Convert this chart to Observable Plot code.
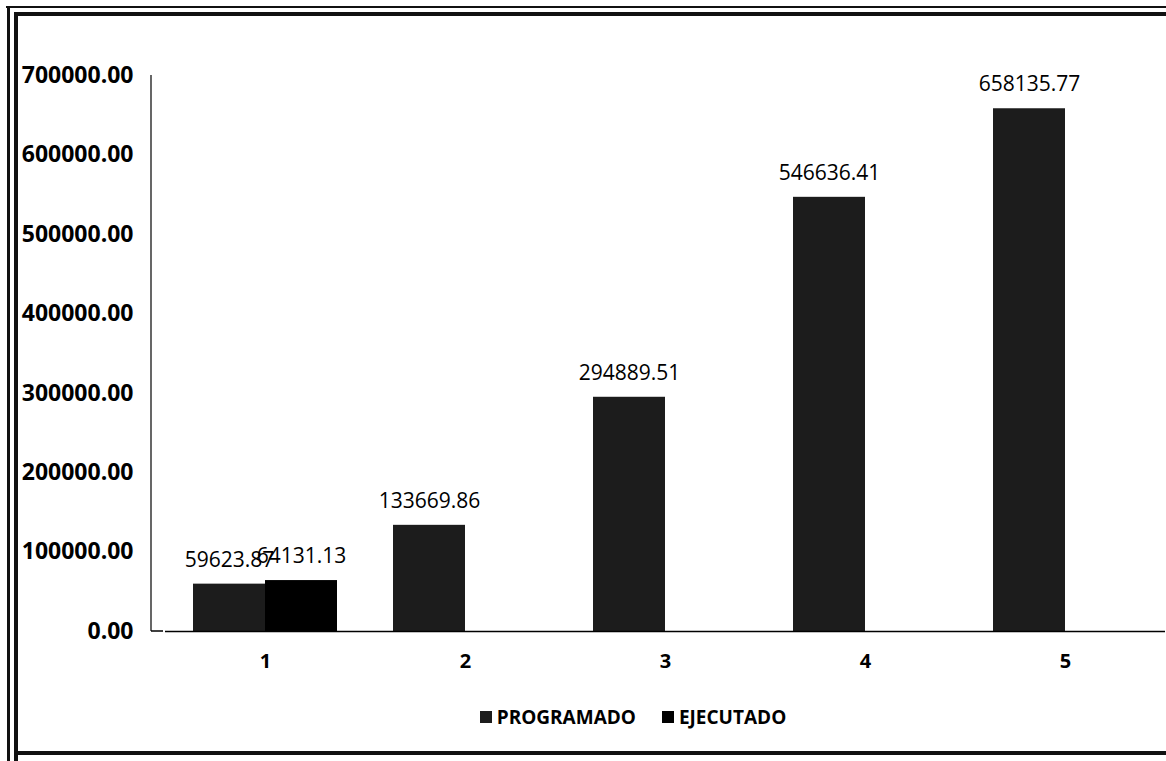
<!DOCTYPE html>
<html>
<head>
<meta charset="utf-8">
<script src="https://cdn.jsdelivr.net/npm/d3@7"></script>
<script src="https://cdn.jsdelivr.net/npm/@observablehq/plot@0.6"></script>
<style>
  html, body { margin: 0; padding: 0; background: #fff; }
  body { width: 1166px; height: 761px; position: relative; overflow: hidden; font-family: "Open Sans", sans-serif; }
  #chart { position: absolute; left: 0; top: 0; }
  .b { position: absolute; background: #111; }
  #legend { position: absolute; top: 704px; left: 0; width: 1166px; display: flex; justify-content: center; gap: 26px; padding-left: 100px; box-sizing: border-box;
    font: bold 19px "Open Sans", sans-serif; color: #000; }
  #legend span.item { display: inline-flex; align-items: center; gap: 5px; }
  #legend span.sw { display: inline-block; width: 12px; height: 12px; }
</style>
</head>
<body>
<div id="chart"></div>
<div id="legend"></div>
<div class="b" style="left:6px; top:6px; width:1160px; height:2px;"></div>
<div class="b" style="left:14px; top:12px; width:1152px; height:4px;"></div>
<div class="b" style="left:7px; top:6px; width:3px; height:755px;"></div>
<div class="b" style="left:14px; top:12px; width:4px; height:749px;"></div>
<div class="b" style="left:14px; top:751px; width:1152px; height:4px;"></div>
<script>
const categories = ["1", "2", "3", "4", "5"];
const seriesNames = ["PROGRAMADO", "EJECUTADO"];
const programado = [59623.87, 133669.86, 294889.51, 546636.41, 658135.77];
const ejecutado = [64131.13, null, null, null, null];
const seriesColors = ["#1c1c1c", "#000000"];
const yTicks = [0, 100000, 200000, 300000, 400000, 500000, 600000, 700000];

const data = [];
categories.forEach((c, i) => {
  if (programado[i] != null) data.push({cat: c, series: seriesNames[0], value: programado[i]});
  if (ejecutado[i] != null) data.push({cat: c, series: seriesNames[1], value: ejecutado[i]});
});
const fmt = d3.format(".2f");

const plot = Plot.plot({
  width: 1166,
  height: 680,
  marginLeft: 163,
  marginRight: 0,
  marginTop: 75,
  marginBottom: 49,
  style: { fontFamily: "Open Sans, sans-serif", background: "transparent" },
  fx: { domain: categories, padding: 0, label: null },
  x: { domain: seriesNames, paddingInner: 0, paddingOuter: 0.37, axis: null },
  y: { domain: [0, 700000], ticks: yTicks, label: null },
  color: { domain: seriesNames, range: seriesColors },
  marks: [
    Plot.axisFx({ anchor: "bottom", tickSize: 0, tickPadding: 22, fontSize: 20, fontWeight: "bold", label: null, fill: "#000" }),
    Plot.axisY({ ticks: yTicks, tickSize: 0, tickPadding: 32, tickFormat: fmt, fontSize: 23, fontWeight: "bold", label: null, fill: "#000" }),
    Plot.barY(data, { fx: "cat", x: "series", y: "value", fill: "series" }),
    Plot.ruleY([0], { stroke: "#000", strokeWidth: 1.5 }),
    Plot.text(data, { fx: "cat", x: "series", y: "value", text: d => fmt(d.value), dy: -24, fontSize: 21, fill: "#000" })
  ]
});
document.getElementById("chart").appendChild(plot);

// y-axis line using the plot's own y scale
const ys = plot.scale("y");
const svg = d3.select(plot);
svg.append("line")
  .attr("x1", 151).attr("x2", 151)
  .attr("y1", ys.apply(0)).attr("y2", ys.apply(700000))
  .attr("stroke", "#000").attr("stroke-width", 1.2);
svg.append("line")
  .attr("x1", 151).attr("x2", 163)
  .attr("y1", ys.apply(0)).attr("y2", ys.apply(0))
  .attr("stroke", "#000").attr("stroke-width", 1.5);

const legend = d3.select("#legend");
seriesNames.forEach((s, i) => {
  const it = legend.append("span").attr("class", "item");
  it.append("span").attr("class", "sw").style("background", seriesColors[i]);
  it.append("span").text(s);
});
</script>
</body>
</html>
